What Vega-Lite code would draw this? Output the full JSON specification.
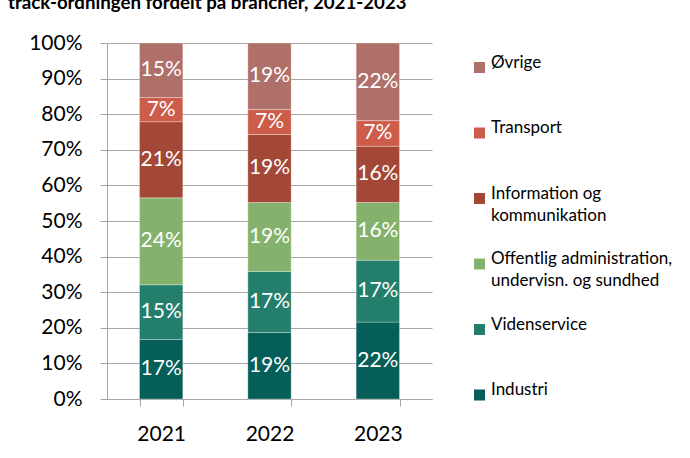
{
  "$schema": "https://vega.github.io/schema/vega-lite/v6.json",
  "width": 325,
  "height": 356,
  "autosize": {"type": "none"},
  "padding": {"left": 107, "top": 43, "right": 258, "bottom": 59},
  "background": "white",
  "config": {
    "font": "Lato",
    "view": {"stroke": null},
    "style": {"guide-label": {"lineHeight": 22}},
    "axisY": {"labelOverlap": false, "labelBound": false}
  },
  "title": {
    "text": "track-ordningen fordelt på brancher, 2021-2023",
    "anchor": "start",
    "frame": "group",
    "orient": "top",
    "baseline": "alphabetic",
    "offset": 4,
    "dx": -99,
    "font": "Lato",
    "fontSize": 18.7,
    "fontWeight": "bold",
    "color": "black"
  },
  "data": {
    "values": [
      {"year": "2021", "sector": "Industri", "k": 1, "share": 0.167},
      {"year": "2021", "sector": "Videnservice", "k": 2, "share": 0.154},
      {"year": "2021", "sector": "Offentlig administration, undervisn. og sundhed", "k": 3, "share": 0.244},
      {"year": "2021", "sector": "Information og kommunikation", "k": 4, "share": 0.214},
      {"year": "2021", "sector": "Transport", "k": 5, "share": 0.068},
      {"year": "2021", "sector": "Øvrige", "k": 6, "share": 0.153},
      {"year": "2022", "sector": "Industri", "k": 1, "share": 0.187},
      {"year": "2022", "sector": "Videnservice", "k": 2, "share": 0.171},
      {"year": "2022", "sector": "Offentlig administration, undervisn. og sundhed", "k": 3, "share": 0.194},
      {"year": "2022", "sector": "Information og kommunikation", "k": 4, "share": 0.191},
      {"year": "2022", "sector": "Transport", "k": 5, "share": 0.070},
      {"year": "2022", "sector": "Øvrige", "k": 6, "share": 0.187},
      {"year": "2023", "sector": "Industri", "k": 1, "share": 0.216},
      {"year": "2023", "sector": "Videnservice", "k": 2, "share": 0.174},
      {"year": "2023", "sector": "Offentlig administration, undervisn. og sundhed", "k": 3, "share": 0.162},
      {"year": "2023", "sector": "Information og kommunikation", "k": 4, "share": 0.158},
      {"year": "2023", "sector": "Transport", "k": 5, "share": 0.072},
      {"year": "2023", "sector": "Øvrige", "k": 6, "share": 0.218}
    ]
  },
  "encoding": {
    "x": {
      "field": "year",
      "type": "ordinal",
      "scale": {"paddingInner": 0.6, "paddingOuter": 0.3},
      "axis": {
        "title": null,
        "labelAngle": 0,
        "labelFont": "Lato",
        "labelFontSize": 21,
        "labelColor": "black",
        "labelPadding": 17,
        "tickSize": 7,
        "tickBand": "extent",
        "tickColor": "#a6a6a6",
        "domainColor": "#a6a6a6",
        "grid": false
      }
    }
  },
  "layer": [
    {
      "mark": {"type": "bar", "stroke": "white", "strokeWidth": 0.6, "strokeOpacity": 0.5},
      "encoding": {
        "y": {
          "field": "share",
          "type": "quantitative",
          "stack": "zero",
          "scale": {"domain": [0, 1]},
          "axis": {
            "title": null,
            "format": ".0%",
            "values": [0, 0.1, 0.2, 0.3, 0.4, 0.5, 0.6, 0.7, 0.8, 0.9, 1],
            "labelOverlap": false,
            "labelFont": "Lato",
            "labelFontSize": 21,
            "labelColor": "black",
            "labelPadding": 18,
            "tickSize": 7,
            "tickColor": "#a6a6a6",
            "domainColor": "#a6a6a6",
            "grid": true,
            "gridColor": "#a6a6a6"
          }
        },
        "order": {"field": "k", "type": "quantitative"},
        "color": {
          "field": "sector",
          "type": "nominal",
          "scale": {
            "domain": ["Øvrige", "Transport", "Information og kommunikation", "Offentlig administration, undervisn. og sundhed", "Videnservice", "Industri"],
            "range": ["#b0706a", "#cd5d4a", "#a34736", "#84b16b", "#237f6b", "#055e58"]
          },
          "legend": {
            "title": null,
            "orient": "right",
            "offset": 23,
            "padding": 16,
            "symbolType": "square",
            "symbolSize": 121,
            "symbolStrokeWidth": 0,
            "labelFont": "Lato",
            "labelFontSize": 17,
            "labelColor": "black",
            "labelOffset": 3,
            "labelBaseline": "alphabetic",
            "labelLimit": 300,
            "rowPadding": 25.5,
            "labelExpr": "datum.label == 'Information og kommunikation' ? ['Information og', 'kommunikation'] : datum.label == 'Offentlig administration, undervisn. og sundhed' ? ['Offentlig administration,', 'undervisn. og sundhed'] : [datum.label, ' ']",
            "encode": {"labels": {"update": {"dy": {"value": 6}, "lineHeight": {"value": 22}}}}
          }
        }
      }
    },
    {
      "mark": {"type": "text", "color": "white", "font": "Lato", "fontSize": 21},
      "encoding": {
        "y": {
          "field": "share",
          "type": "quantitative",
          "stack": "zero",
          "bandPosition": 0.5,
          "axis": {
            "title": null,
            "format": ".0%",
            "values": [0, 0.1, 0.2, 0.3, 0.4, 0.5, 0.6, 0.7, 0.8, 0.9, 1],
            "labelOverlap": false,
            "labelFont": "Lato",
            "labelFontSize": 21,
            "labelColor": "black",
            "labelPadding": 18,
            "tickSize": 7,
            "tickColor": "#a6a6a6",
            "domainColor": "#a6a6a6",
            "grid": true,
            "gridColor": "#a6a6a6"
          }
        },
        "detail": {"field": "sector"},
        "order": {"field": "k", "type": "quantitative"},
        "text": {"field": "share", "type": "quantitative", "format": ".0%"}
      }
    }
  ]
}
